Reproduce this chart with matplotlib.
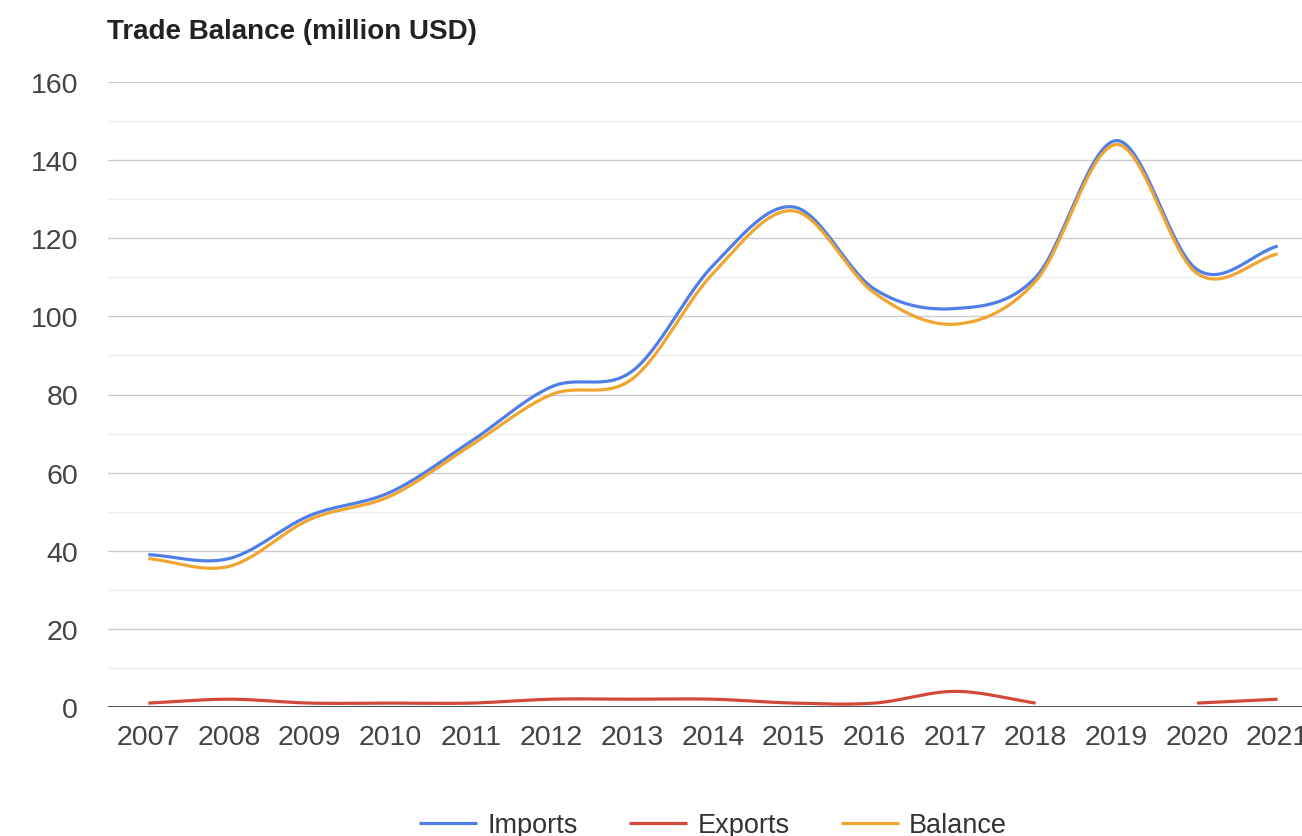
import numpy as np
import matplotlib
matplotlib.use('Agg')
import matplotlib.pyplot as plt

plt.rcParams['font.family'] = ['Liberation Sans', 'DejaVu Sans']

# === Data ===
years = [2007, 2008, 2009, 2010, 2011, 2012, 2013, 2014,
         2015, 2016, 2017, 2018, 2019, 2020, 2021]
imports = [39, 38, 49, 55, 68, 82, 86, 113, 128, 107, 102, 110, 145, 112, 118]
exports = [1, 2, 1, 1, 1, 2, 2, 2, 1, 1, 4, 1, np.nan, 1, 2]
balance = [38, 36, 48, 54, 67, 80, 84, 111, 127, 106, 98, 109, 144, 111, 116]

series = [('Imports', imports, '#4f7fe6'),
          ('Exports', exports, '#d2493a'),
          ('Balance', balance, '#f0a531')]


def smooth(x, y, n=30):
    # cubic Hermite through the points, per continuous segment (NaN = gap)
    x = np.asarray(x, float); y = np.asarray(y, float)
    ok = ~np.isnan(y)
    segs, cur = [], []
    for i in range(len(x)):
        if ok[i]:
            cur.append(i)
        elif cur:
            segs.append(cur); cur = []
    if cur:
        segs.append(cur)
    out = []
    for s in segs:
        xs, ys = x[s], y[s]
        if len(xs) < 2:
            continue
        m = np.gradient(ys, xs) if len(xs) > 2 else np.full(2, (ys[1] - ys[0]) / (xs[1] - xs[0]))
        X, Y = [], []
        for i in range(len(xs) - 1):
            h = xs[i + 1] - xs[i]
            t = np.linspace(0, 1, n)
            h00 = 2*t**3 - 3*t**2 + 1; h10 = t**3 - 2*t**2 + t
            h01 = -2*t**3 + 3*t**2; h11 = t**3 - t**2
            X.append(xs[i] + t*h)
            Y.append(h00*ys[i] + h10*h*m[i] + h01*ys[i+1] + h11*h*m[i+1])
        out.append((np.concatenate(X), np.concatenate(Y)))
    return out


fig = plt.figure(figsize=(13.02, 8.37), dpi=100)
ax = fig.add_axes([108/1302, 129/837, 1210/1302, 625/837])

for name, vals, col in series:
    for i, (sx, sy) in enumerate(smooth(years, vals)):
        ax.plot(sx, sy, color=col, lw=2.3, solid_capstyle='butt',
                label=name if i == 0 else None, zorder=3)

ax.set_xlim(2006.5, 2021.5)
ax.set_ylim(0, 160)
ax.set_xticks(years)
ax.set_xticklabels([str(y) for y in years])
ax.set_yticks(range(0, 161, 20))
ax.set_yticks(range(10, 160, 20), minor=True)
ax.grid(True, which='major', axis='y', color='#cccccc', lw=1)
ax.grid(True, which='minor', axis='y', color='#eeeeee', lw=1)
ax.axhline(0, color='#333333', lw=1.2, zorder=2)
for sp in ax.spines.values():
    sp.set_visible(False)
ax.tick_params(axis='both', which='both', length=0, labelsize=20.5, colors='#444444')
ax.tick_params(axis='y', pad=21.5)
ax.tick_params(axis='x', pad=12)

fig.text(107/1302, 1 - 32/837, 'Trade Balance (million USD)', fontsize=20,
         fontweight='bold', color='#222222', va='center', ha='left')

fig.legend(loc='center', bbox_to_anchor=(713/1302, 1 - 826/837), ncol=3,
           frameon=False, fontsize=19.5, handlelength=2.15, columnspacing=1.9,
           handletextpad=0.37, labelcolor='#333333')

fig.savefig('out.png', dpi=100)
